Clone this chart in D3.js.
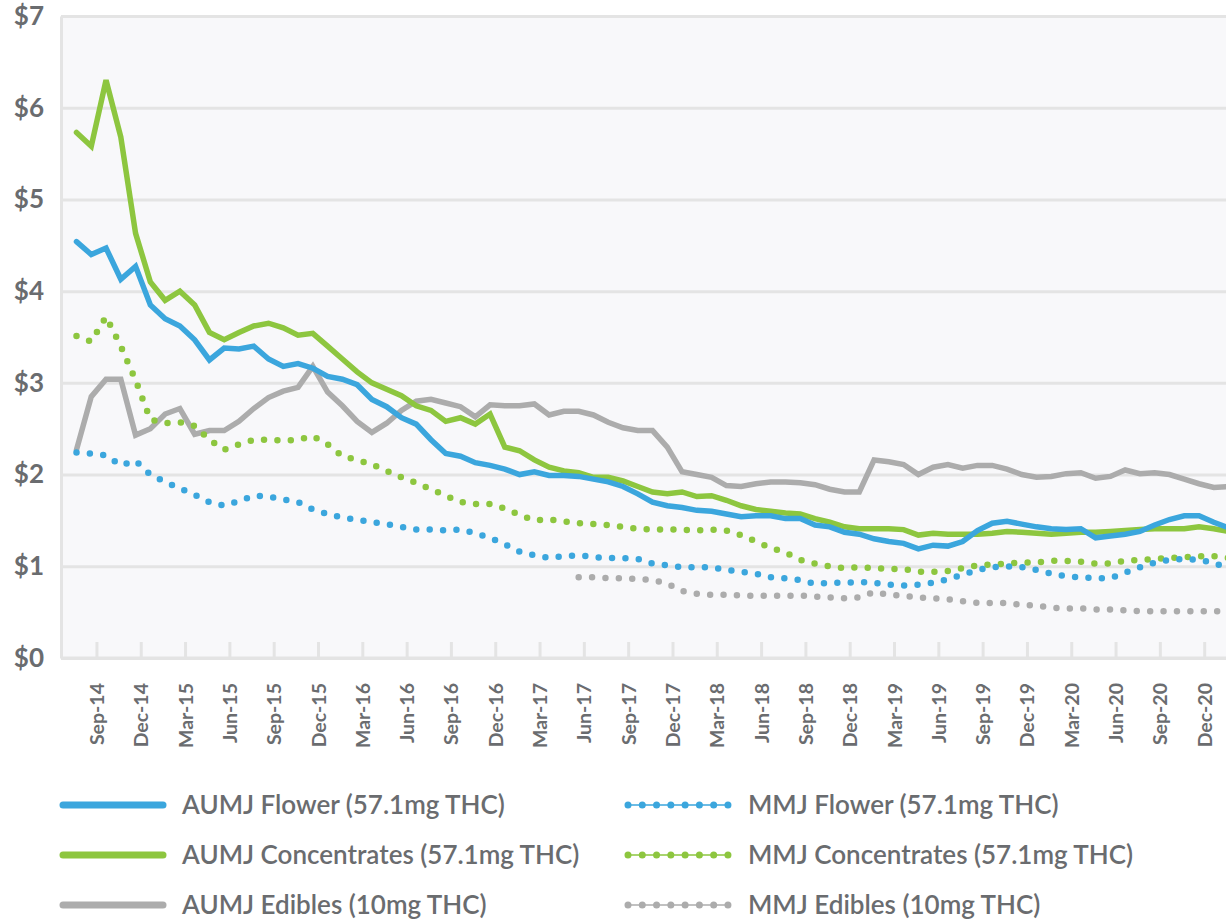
<!DOCTYPE html>
<html>
<head>
<meta charset="utf-8">
<script src="https://cdn.jsdelivr.net/npm/d3@7/dist/d3.min.js"></script>
<style>
  body { margin: 0; background: #fff; }
  text { font-family: Lato, "Open Sans", sans-serif; }
</style>
</head>
<body>
<script>
// monthly categories, Aug-14 .. Feb-21 (the last one is cut by the right edge)
const months = [
  "Aug-14","Sep-14","Oct-14","Nov-14","Dec-14",
  "Jan-15","Feb-15","Mar-15","Apr-15","May-15","Jun-15","Jul-15","Aug-15","Sep-15","Oct-15","Nov-15","Dec-15",
  "Jan-16","Feb-16","Mar-16","Apr-16","May-16","Jun-16","Jul-16","Aug-16","Sep-16","Oct-16","Nov-16","Dec-16",
  "Jan-17","Feb-17","Mar-17","Apr-17","May-17","Jun-17","Jul-17","Aug-17","Sep-17","Oct-17","Nov-17","Dec-17",
  "Jan-18","Feb-18","Mar-18","Apr-18","May-18","Jun-18","Jul-18","Aug-18","Sep-18","Oct-18","Nov-18","Dec-18",
  "Jan-19","Feb-19","Mar-19","Apr-19","May-19","Jun-19","Jul-19","Aug-19","Sep-19","Oct-19","Nov-19","Dec-19",
  "Jan-20","Feb-20","Mar-20","Apr-20","May-20","Jun-20","Jul-20","Aug-20","Sep-20","Oct-20","Nov-20","Dec-20",
  "Jan-21","Feb-21"
];

const tickLabels = [
  "Sep-14","Dec-14","Mar-15","Jun-15","Sep-15","Dec-15","Mar-16","Jun-16","Sep-16","Dec-16",
  "Mar-17","Jun-17","Sep-17","Dec-17","Mar-18","Jun-18","Sep-18","Dec-18","Mar-19","Jun-19",
  "Sep-19","Dec-19","Mar-20","Jun-20","Sep-20","Dec-20"
];

const yTicks = [0, 1, 2, 3, 4, 5, 6, 7];

const aumjFlower = [
  4.54,4.40,4.47,4.13,4.27,3.85,3.70,3.62,3.47,3.25,3.38,3.37,3.40,3.26,3.18,3.21,3.16,
  3.07,3.04,2.98,2.82,2.74,2.62,2.55,2.38,2.23,2.20,2.13,2.10,
  2.06,2.00,2.03,1.99,1.99,1.98,1.95,1.92,1.87,1.79,1.70,1.66,
  1.64,1.61,1.60,1.57,1.54,1.55,1.55,1.52,1.52,1.45,1.43,1.37,
  1.35,1.30,1.27,1.25,1.19,1.23,1.22,1.27,1.39,1.47,1.49,1.46,
  1.43,1.41,1.40,1.41,1.31,1.33,1.35,1.38,1.45,1.51,1.55,1.55,
  1.48,1.42
];

const aumjConcentrates = [
  5.73,5.58,6.30,5.68,4.63,4.10,3.90,4.00,3.85,3.55,3.47,3.55,3.62,3.65,3.60,3.52,3.54,
  3.40,3.26,3.12,3.00,2.93,2.86,2.75,2.70,2.58,2.62,2.55,2.66,
  2.30,2.26,2.16,2.08,2.04,2.02,1.97,1.97,1.93,1.87,1.81,1.79,
  1.81,1.76,1.77,1.72,1.66,1.62,1.60,1.58,1.57,1.52,1.48,1.43,
  1.41,1.41,1.41,1.40,1.34,1.36,1.35,1.35,1.35,1.36,1.38,1.37,
  1.36,1.35,1.36,1.37,1.37,1.38,1.39,1.40,1.41,1.41,1.41,1.43,
  1.41,1.38
];

const aumjEdibles = [
  2.27,2.85,3.04,3.04,2.43,2.50,2.66,2.72,2.44,2.48,2.48,2.58,2.72,2.84,2.91,2.95,3.18,
  2.90,2.75,2.58,2.46,2.56,2.70,2.80,2.82,2.78,2.74,2.63,2.76,
  2.75,2.75,2.77,2.65,2.69,2.69,2.65,2.57,2.51,2.48,2.48,2.30,
  2.03,2.00,1.97,1.88,1.87,1.90,1.92,1.92,1.91,1.89,1.84,1.81,
  1.81,2.16,2.14,2.11,2.00,2.08,2.11,2.07,2.10,2.10,2.06,2.00,
  1.97,1.98,2.01,2.02,1.96,1.98,2.05,2.01,2.02,2.00,1.95,1.90,
  1.86,1.87
];

const mmjFlower = [
  2.24,2.23,2.21,2.10,2.15,2.00,1.92,1.85,1.78,1.70,1.66,1.71,1.77,1.76,1.73,1.70,1.62,
  1.57,1.53,1.51,1.48,1.46,1.43,1.40,1.40,1.39,1.40,1.36,1.31,
  1.24,1.16,1.12,1.09,1.11,1.12,1.10,1.09,1.09,1.08,1.03,1.01,
  0.99,0.99,0.99,0.96,0.94,0.92,0.88,0.87,0.85,0.81,0.82,0.82,
  0.83,0.82,0.80,0.79,0.80,0.82,0.86,0.91,0.96,0.99,1.00,0.99,
  0.96,0.92,0.89,0.88,0.87,0.87,0.93,0.99,1.04,1.07,1.08,1.07,
  1.04,0.97
];

const mmjConcentrates = [
  3.51,3.45,3.72,3.40,3.03,2.60,2.56,2.57,2.53,2.38,2.27,2.33,2.38,2.38,2.37,2.38,2.42,
  2.33,2.20,2.16,2.11,2.04,1.97,1.91,1.84,1.77,1.70,1.68,1.68,
  1.63,1.56,1.50,1.51,1.49,1.47,1.46,1.45,1.43,1.41,1.40,1.40,
  1.40,1.39,1.40,1.39,1.34,1.27,1.20,1.15,1.07,1.03,1.00,0.98,
  0.99,0.98,0.97,0.97,0.94,0.94,0.95,0.98,1.01,1.02,1.03,1.04,
  1.04,1.06,1.06,1.05,1.03,1.03,1.06,1.07,1.08,1.09,1.10,1.11,
  1.11,1.09
];

const mmjEdibles = [
  null,null,null,null,null,null,null,null,null,null,null,null,null,null,null,null,null,
  null,null,null,null,null,null,null,null,null,null,null,null,
  null,null,null,null,null,0.88,0.88,0.87,0.87,0.86,0.85,0.81,
  0.73,0.70,0.69,0.69,0.68,0.68,0.68,0.68,0.68,0.67,0.66,0.65,
  0.66,0.72,0.69,0.68,0.66,0.65,0.64,0.62,0.60,0.60,0.60,0.58,
  0.57,0.55,0.54,0.54,0.53,0.53,0.52,0.51,0.51,0.51,0.51,0.51,
  0.51,0.51
];

const W = 1226, H = 919;
const plotLeft = 61, plotTop = 16, plotBottom = 658, plotRight = 1226;
const firstX = 76.5, step = 14.77, tickShift = 0.35;

const blue = "#3ba6dd", green = "#8dc63f", grey = "#acacac";
const textColor = "#6a6c6f", gridColor = "#e4e4e4";

const series = [
  { name: "AUMJ Edibles (10mg THC)", values: aumjEdibles, color: grey, dotted: false },
  { name: "AUMJ Concentrates (57.1mg THC)", values: aumjConcentrates, color: green, dotted: false },
  { name: "AUMJ Flower (57.1mg THC)", values: aumjFlower, color: blue, dotted: false },
  { name: "MMJ Edibles (10mg THC)", values: mmjEdibles, color: grey, dotted: true },
  { name: "MMJ Concentrates (57.1mg THC)", values: mmjConcentrates, color: green, dotted: true },
  { name: "MMJ Flower (57.1mg THC)", values: mmjFlower, color: blue, dotted: true }
];

const svg = d3.select("body").append("svg")
  .attr("width", W)
  .attr("height", H);

const x = d3.scaleLinear()
  .domain([0, months.length - 1])
  .range([firstX, firstX + step * (months.length - 1)]);

const y = d3.scaleLinear()
  .domain([0, 7])
  .range([plotBottom, plotTop]);

// plot background
svg.append("rect")
  .attr("x", plotLeft)
  .attr("y", plotTop)
  .attr("width", plotRight - plotLeft)
  .attr("height", plotBottom - plotTop)
  .attr("fill", "#f8f8fa");

// y axis with gridlines
const yAxis = svg.append("g")
  .attr("transform", "translate(" + plotLeft + ",0)")
  .call(d3.axisLeft(y)
    .tickValues(yTicks)
    .tickFormat(d => "$" + d)
    .tickSizeInner(-(plotRight - plotLeft))
    .tickSizeOuter(0)
    .tickPadding(17));

yAxis.select(".domain").attr("stroke", gridColor).attr("stroke-width", 3);
yAxis.selectAll(".tick line").attr("stroke", gridColor).attr("stroke-width", 3);
yAxis.selectAll(".tick text")
  .attr("fill", textColor)
  .style("font-size", "26px")
  .style("font-weight", "700");

// x axis, ticks pointing up into the plot
const xAxis = svg.append("g")
  .attr("transform", "translate(0," + plotBottom + ")")
  .call(d3.axisBottom(x)
    .tickValues(tickLabels.map(l => months.indexOf(l) + tickShift))
    .tickFormat((d, i) => tickLabels[i])
    .tickSizeInner(-16)
    .tickSizeOuter(0));

xAxis.select(".domain").remove();
xAxis.selectAll(".tick line").attr("stroke", gridColor).attr("stroke-width", 3);
xAxis.selectAll(".tick text")
  .attr("transform", "rotate(-90)")
  .attr("x", -25)
  .attr("y", 0)
  .attr("dy", "0.36em")
  .attr("text-anchor", "end")
  .attr("fill", textColor)
  .style("font-size", "19.5px")
  .style("font-weight", "700");

svg.append("line")
  .attr("x1", plotLeft).attr("x2", plotRight)
  .attr("y1", plotBottom).attr("y2", plotBottom)
  .attr("stroke", gridColor).attr("stroke-width", 3);

// lines
const line = d3.line()
  .defined(d => d != null)
  .x((d, i) => x(i))
  .y(d => y(d));

svg.selectAll(".series")
  .data(series)
  .enter()
  .append("path")
  .attr("class", "series")
  .attr("d", d => line(d.values))
  .attr("fill", "none")
  .attr("stroke", d => d.color)
  .attr("stroke-width", d => d.dotted ? 6.5 : 5.5)
  .attr("stroke-linejoin", "miter")
  .attr("stroke-linecap", "round")
  .attr("stroke-dasharray", d => d.dotted ? "0 13.4" : null);

// legend
const legendRows = [805, 855, 905];
const legendItems = [
  { s: series[2], col: 0, row: 0 },
  { s: series[1], col: 0, row: 1 },
  { s: series[0], col: 0, row: 2 },
  { s: series[5], col: 1, row: 0 },
  { s: series[4], col: 1, row: 1 },
  { s: series[3], col: 1, row: 2 }
];
const legendCols = [
  { x1: 63, x2: 163, tx: 182 },
  { x1: 628, x2: 728, tx: 748 }
];

const leg = svg.selectAll(".legend")
  .data(legendItems)
  .enter()
  .append("g")
  .attr("class", "legend")
  .attr("transform", d => "translate(0," + legendRows[d.row] + ")");

leg.filter(d => d.s.dotted)
  .append("line")
  .attr("x1", d => legendCols[d.col].x1)
  .attr("x2", d => legendCols[d.col].x2)
  .attr("stroke", d => d.s.color)
  .attr("stroke-width", 1.5);

leg.append("line")
  .attr("x1", d => legendCols[d.col].x1)
  .attr("x2", d => legendCols[d.col].x2)
  .attr("stroke", d => d.s.color)
  .attr("stroke-width", 7)
  .attr("stroke-linecap", "round")
  .attr("stroke-dasharray", d => d.s.dotted ? "0 14.28" : null);

leg.append("text")
  .attr("x", d => legendCols[d.col].tx)
  .attr("dy", "0.36em")
  .attr("fill", textColor)
  .style("font-size", "26px")
  .style("font-weight", "600")
  .text(d => d.s.name);
</script>
</body>
</html>
